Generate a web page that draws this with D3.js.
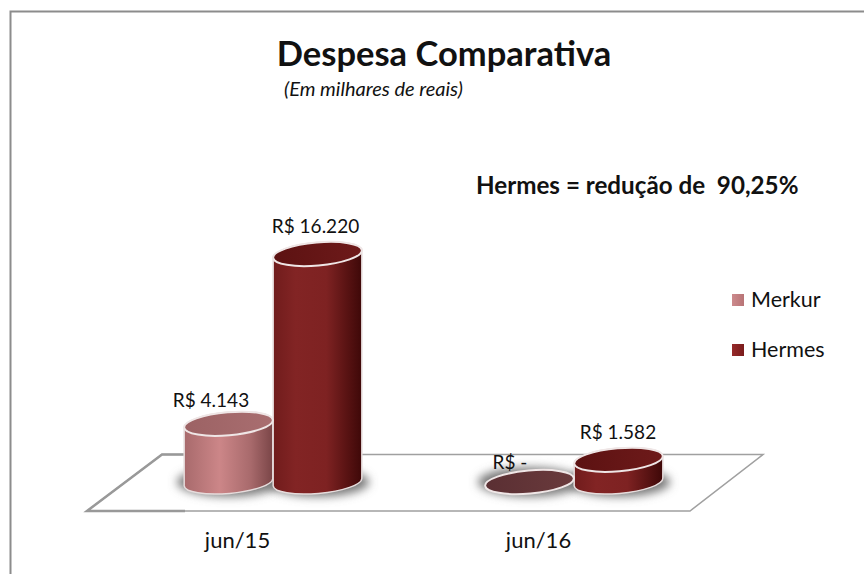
<!DOCTYPE html>
<html>
<head>
<meta charset="utf-8">
<script src="https://cdn.jsdelivr.net/npm/d3@7"></script>
<style>
	html, body { margin: 0; padding: 0; background: #fff; }
	svg { display: block; }
	text { font-family: Lato, "Open Sans", sans-serif; fill: #111; white-space: pre; }
</style>
</head>
<body>
<div id="grafico"></div>
<script>
const width = 864;
const height = 574;

// Dados
const categorias = ["jun/15", "jun/16"];
const series = ["Merkur", "Hermes"];
const merkur = [4143, 0];
const hermes = [16220, 1582];
const rotulos = [["R$ 4.143", "R$ -"], ["R$ 16.220", "R$ 1.582"]];

// deslocamento dos rótulos em relação ao topo de cada cilindro
const rotuloDx = [[-17.5, -19.5], [-2, -0.5]];
const rotuloDy = [[-17, -13], [-21, -21]];

const svg = d3.select("#grafico").append("svg")
	.attr("width", width)
	.attr("height", height);

const defs = svg.append("defs");

function gradiente(id, cores) {
	const g = defs.append("linearGradient").attr("id", id);
	cores.forEach(c => g.append("stop").attr("offset", c[0]).attr("stop-color", c[1]));
}
gradiente("corpoMerkur", [[0, "#a86a6c"], [0.4, "#cc8688"], [0.75, "#a86a6c"], [1, "#7a4547"]]);
gradiente("corpoHermes", [[0, "#701c1c"], [0.25, "#822424"], [0.6, "#7e2222"], [1, "#3e0808"]]);
gradiente("topoMerkur", [[0, "#9c6264"], [1, "#a96e70"]]);
gradiente("topoHermes", [[0, "#5c1212"], [1, "#6e1a1a"]]);
gradiente("topoZero", [[0, "#5a2f33"], [1, "#6a3a3c"]]);
gradiente("legMerkur", [[0, "#cc8a8c"], [1, "#b87476"]]);
gradiente("legHermes", [[0, "#962a2a"], [1, "#7a1c1c"]]);

defs.append("filter").attr("id", "sombra")
	.attr("x", "-30%").attr("y", "-60%").attr("width", "160%").attr("height", "220%")
	.append("feGaussianBlur").attr("stdDeviation", 5);

// moldura: a borda direita e a de baixo não aparecem na figura
svg.append("path")
	.attr("d", "M10.5,574V11.5H864")
	.attr("fill", "none")
	.attr("stroke", "#8c8c8c")
	.attr("stroke-width", 2);

// piso
svg.append("path")
	.attr("d", "M87,511L162,454.5H763L690,511Z")
	.attr("fill", "#fff")
	.attr("stroke", "#a0a0a0")
	.attr("stroke-width", 1.5);
// o trecho esquerdo do piso é mais grosso
svg.append("path")
	.attr("d", "M185,454.5H162L87,511H185")
	.attr("fill", "none")
	.attr("stroke", "#999")
	.attr("stroke-width", 2.5);

// escalas
const x0 = d3.scaleBand().domain(categorias).range([122.5, 724.5]);
const x1 = d3.scaleBand().domain(series).range([x0.bandwidth() / 2 - 89, x0.bandwidth() / 2 + 89]);
const y = d3.scaleLinear().domain([0, 16220]).range([482, 254]);
const xRotulos = d3.scaleBand().domain(categorias).range([87, 689]);

const rx = x1.bandwidth() / 2;
const ry = 11.5;
const inclinacao = -5;

const valores = [merkur, hermes];
const dados = [];
series.forEach((s, i) => {
	categorias.forEach((c, j) => {
		dados.push({
			serie: s, categoria: c, valor: valores[i][j], rotulo: rotulos[i][j],
			dx: rotuloDx[i][j], dy: rotuloDy[i][j]
		});
	});
});

// cilindro com base e topo levemente inclinados
function corpo(d) {
	const cx = x0(d.categoria) + x1(d.serie) + rx;
	const dx = rx * Math.cos(inclinacao * Math.PI / 180);
	const dy = rx * Math.sin(inclinacao * Math.PI / 180);
	const topo = y(d.valor);
	const base = y(0);
	return `M${cx - dx},${topo - dy}` +
		`L${cx - dx},${base - dy}` +
		`A${rx},${ry} ${inclinacao} 0 0 ${cx + dx},${base + dy}` +
		`L${cx + dx},${topo + dy}` +
		`A${rx},${ry} ${inclinacao} 0 0 ${cx - dx},${topo - dy}Z`;
}

const grupo = svg.append("g");

// sombras primeiro, para ficarem por baixo de todos os cilindros
grupo.selectAll(".sombra")
	.data(dados)
	.enter().append("ellipse")
	.attr("class", "sombra")
	.attr("cx", d => x0(d.categoria) + x1(d.serie) + rx)
	.attr("cy", y(0))
	.attr("rx", rx + 7)
	.attr("ry", ry + 3)
	.attr("fill", "#777")
	.attr("filter", "url(#sombra)");

const cilindro = grupo.selectAll(".cilindro")
	.data(dados.filter(d => d.valor > 0))
	.enter().append("g")
	.attr("class", "cilindro");

cilindro.append("path")
	.attr("d", corpo)
	.attr("fill", d => d.serie === "Merkur" ? "url(#corpoMerkur)" : "url(#corpoHermes)")
	.attr("stroke", "#e6dcdc")
	.attr("stroke-width", 1.5);

grupo.selectAll(".topo")
	.data(dados)
	.enter().append("ellipse")
	.attr("class", "topo")
	.attr("rx", rx)
	.attr("ry", ry)
	.attr("transform", d => `translate(${x0(d.categoria) + x1(d.serie) + rx},${y(d.valor)}) rotate(${inclinacao})`)
	.attr("fill", d => d.valor === 0 ? "url(#topoZero)" : d.serie === "Merkur" ? "url(#topoMerkur)" : "url(#topoHermes)")
	.attr("stroke", "#efe6e6")
	.attr("stroke-width", 2);

// rótulos de valor
svg.selectAll(".rotulo")
	.data(dados)
	.enter().append("text")
	.attr("class", "rotulo")
	.attr("x", d => x0(d.categoria) + x1(d.serie) + rx + d.dx)
	.attr("y", d => y(d.valor) + d.dy)
	.attr("text-anchor", "middle")
	.attr("font-size", 19)
	.text(d => d.rotulo);

// eixo de categorias
const eixo = svg.append("g")
	.attr("transform", "translate(0,510)")
	.call(d3.axisBottom(xRotulos).tickSize(0).tickPadding(22));
eixo.select(".domain").remove();
eixo.selectAll("text").attr("font-size", 22).style("font-family", "Lato").style("fill", "#111");

// títulos
svg.append("text").attr("x", 444).attr("y", 66).attr("text-anchor", "middle")
	.attr("font-size", 34.5).attr("font-weight", 700).text("Despesa Comparativa");
svg.append("text").attr("x", 284).attr("y", 96)
	.attr("font-size", 20).attr("font-style", "italic").text("(Em milhares de reais)");
svg.append("text").attr("x", 476).attr("y", 194)
	.attr("font-size", 24.2).attr("font-weight", 700).text("Hermes = redução de  90,25%");

// legenda
const legY = d3.scalePoint().domain(series).range([300, 350]);
const legenda = svg.selectAll(".legenda")
	.data(series)
	.enter().append("g")
	.attr("class", "legenda")
	.attr("transform", d => `translate(732,${legY(d)})`);
legenda.append("rect")
	.attr("y", -6).attr("width", 12).attr("height", 12)
	.attr("fill", d => d === "Merkur" ? "url(#legMerkur)" : "url(#legHermes)");
legenda.append("text")
	.attr("x", 19).attr("y", 7)
	.attr("font-size", 21.5)
	.text(d => d);
</script>
</body>
</html>
